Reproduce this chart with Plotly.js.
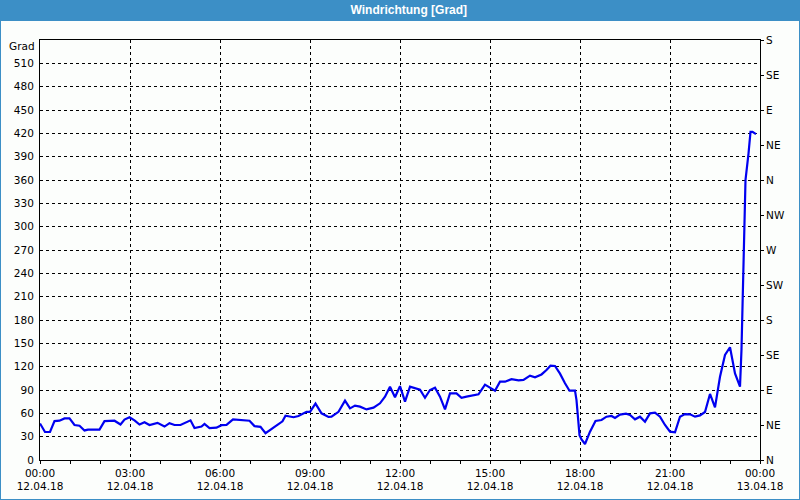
<!DOCTYPE html>
<html>
<head>
<meta charset="utf-8">
<script src="https://cdn.plot.ly/plotly-3.0.1.min.js"></script>
<style>
  html, body { margin: 0; padding: 0; background: #fcfefc; }
  #chart { width: 800px; height: 500px; }
</style>
</head>
<body>
<div id="chart"></div>
<script>
// Time of day (12.04.18) for each reading
const times = [
  "00:00","00:10","00:20","00:29","00:39","00:49","00:59","01:09","01:19","01:29",
  "01:36","01:59","02:09","02:29","02:41","02:49","02:59","03:09","03:19","03:29",
  "03:39","03:55","04:09","04:19","04:29","04:41","05:01","05:09","05:23","05:29",
  "05:39","05:53","06:03","06:13","06:26","06:36","06:59","07:09","07:21","07:31",
  "07:43","07:57","08:05","08:11","08:27","08:37","08:53","09:00","09:11","09:23",
  "09:37","09:43","09:57","10:10","10:20","10:30","10:40","10:53","11:07","11:20",
  "11:30","11:40","11:50","12:00","12:10","12:20","12:30","12:40","12:50","13:00",
  "13:10","13:20","13:30","13:40","13:53","14:03","14:13","14:27","14:37","14:50",
  "15:00","15:10","15:20","15:30","15:43","15:57","16:07","16:20","16:30","16:43",
  "16:53","17:01","17:10","17:20","17:30","17:39","17:50","17:53","17:59","18:03",
  "18:10","18:20","18:31","18:43","18:53","19:03","19:10","19:20","19:32","19:40",
  "19:50","20:00","20:10","20:20","20:30","20:40","20:50","21:00","21:10","21:20",
  "21:30","21:40","21:50","22:00","22:10","22:20","22:30","22:40","22:50","23:00",
  "23:10","23:20","23:23","23:25","23:27","23:29","23:31","23:37","23:41","23:45",
  "23:52"
];
// Wind direction in degrees
const direction = [
  47,36,36,50,50.5,53.5,53.5,45,44,38,
  39,39,50,50.5,45.6,52,55,51,45.6,48.5,
  45,47.7,43,47.3,45,45,51,41,43,46.4,
  41,41.5,44.8,45.2,52.2,51.4,50.5,43.6,42.7,34.5,
  39.5,45.6,49.7,57,55,56.6,62,62,72.5,60,
  55.3,55.7,62,76.3,66.4,69.9,68.6,65,67.3,72.9,
  81.4,94.3,80.6,95,75,94.3,92,90.4,80,90,
  93,81.4,65,85.7,85.7,80,81.4,82.7,84.4,96.9,
  93.4,89.1,100.7,100.7,104,102.4,102.9,108.4,106.3,110,
  115.7,121.3,120.9,111,98.6,89.1,89.1,77,32,26.6,
  20.6,36.4,50.1,51.4,55.7,56.6,54,58.3,59.6,57.9,
  52.3,55.7,49.3,60,60.9,55.7,45,36.4,35.6,55.7,
  59.1,58.7,55.7,57.4,61.7,84.9,67.7,107,135,145,
  111.4,94.3,142,193,242,296,360,394,422,422,
  419
];
// Left axis ticks (degrees)
const degreeTicks = [0,30,60,90,120,150,180,210,240,270,300,330,360,390,420,450,480,510];
// Right axis compass ticks
const compassVals = [0,45,90,135,180,225,270,315,360,405,450,495,540];
const compassText = ["N","NE","E","SE","S","SW","W","NW","N","NE","E","SE","S"];

const day = "2018-04-12 ";
const xs = times.map(t => day + t);

const fontFam = "DejaVu Sans, Verdana, sans-serif";
const W = 800, H = 500, mL = 40, mR = 40, mT = 40, mB = 40;
const pw = W - mL - mR, ph = H - mT - mB;

const trace = {
  x: xs, y: direction, type: "scatter", mode: "lines",
  line: { color: "#0000f0", width: 2.2 }, hoverinfo: "skip"
};
const trace2 = { x: [xs[0]], y: [0], yaxis: "y2", type: "scatter", mode: "markers",
  marker: { opacity: 0 }, hoverinfo: "skip", showlegend: false };

const layout = {
  width: W, height: H,
  margin: { l: mL, r: mR, t: mT, b: mB, pad: 0 },
  paper_bgcolor: "#fcfefc", plot_bgcolor: "#fcfefc",
  showlegend: false,
  font: { family: fontFam, size: 10.5, color: "#000" },
  title: {
    text: "<b>Windrichtung [Grad]</b>",
    font: { family: "Liberation Sans, Arial, sans-serif", size: 12, color: "#ffffff" },
    x: 0.511, xref: "container", xanchor: "center",
    y: 1 - 10 / H, yref: "container", yanchor: "middle"
  },
  xaxis: {
    type: "date",
    range: ["2018-04-12 00:00", "2018-04-13 00:00"],
    tickmode: "linear", tick0: "2018-04-12 00:00", dtick: 3 * 3600000,
    tickformat: "%H:%M<br>%d.%m.%y",
    ticks: "outside", ticklen: 3, tickcolor: "#000", tickwidth: 1,
    showgrid: true, gridcolor: "#000", gridwidth: 1, griddash: "3px,3px",
    minor: { dtick: 3600000, tick0: "2018-04-12 00:00", ticks: "outside", ticklen: 3, tickcolor: "#000", showgrid: false },
    showline: true, linecolor: "#000", linewidth: 1, mirror: true,
    zeroline: false, fixedrange: true,
    tickfont: { family: fontFam, size: 10.5, color: "#000" }
  },
  yaxis: {
    range: [0, 540],
    tickmode: "array", tickvals: degreeTicks, ticktext: degreeTicks.map(String),
    ticks: "", showgrid: true, gridcolor: "#000", gridwidth: 1, griddash: "3px,3px",
    showline: true, linecolor: "#000", linewidth: 1, mirror: true,
    zeroline: false, fixedrange: true, ticklabelstandoff: 3,
    tickfont: { family: fontFam, size: 10.5, color: "#000" }
  },
  yaxis2: {
    range: [0, 540], overlaying: "y", side: "right",
    tickmode: "array", tickvals: compassVals, ticktext: compassText,
    ticks: "outside", ticklen: 3, tickcolor: "#000",
    ticklabelshift: 1.5, ticklabelstandoff: 0,
    showgrid: false, zeroline: false, showline: false, fixedrange: true,
    tickfont: { family: fontFam, size: 10.5, color: "#000" }
  },
  shapes: [
    { type: "rect", xref: "paper", yref: "paper", layer: "below",
      x0: -mL / pw, x1: 1 + mR / pw, y0: 1 + (mT - 21) / ph, y1: 1 + mT / ph,
      fillcolor: "#3c8fc6", line: { width: 0 } },
    { type: "rect", xref: "paper", yref: "paper", layer: "below",
      x0: -mL / pw, x1: 1 + mR / pw, y0: -mB / ph, y1: 1 + mT / ph,
      fillcolor: "rgba(0,0,0,0)", line: { color: "#3c8fc6", width: 2 } }
  ],
  annotations: [
    { text: "Grad", xref: "paper", yref: "paper", x: 0, y: 1 - 6 / ph,
      xanchor: "right", yanchor: "middle", xshift: -3, showarrow: false,
      font: { family: fontFam, size: 10.5, color: "#000" } }
  ]
};

Plotly.newPlot("chart", [trace, trace2], layout, { staticPlot: true, displayModeBar: false });
</script>
</body>
</html>
